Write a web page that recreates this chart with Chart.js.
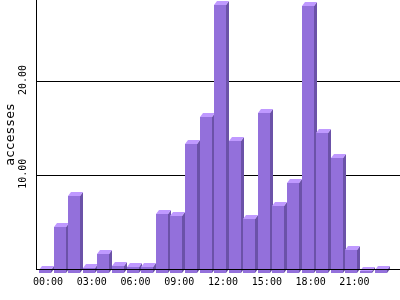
<!DOCTYPE html>
<html>
<head>
<meta charset="utf-8">
<script src="https://cdn.jsdelivr.net/npm/chart.js@4.4.1/dist/chart.umd.min.js"></script>
<style>
  html, body { margin: 0; padding: 0; background: #fff; }
</style>
</head>
<body>
<canvas id="chart" width="400" height="300"></canvas>
<script>
// hourly accesses
const hours = ['00:00', '01:00', '02:00', '03:00', '04:00', '05:00', '06:00', '07:00',
               '08:00', '09:00', '10:00', '11:00', '12:00', '13:00', '14:00', '15:00',
               '16:00', '17:00', '18:00', '19:00', '20:00', '21:00', '22:00', '23:00'];
const accesses = [0.35, 4.9, 8.2, 0.53, 2.0, 0.75, 0.64, 0.64,
                  6.3, 6.1, 13.8, 16.6, 28.6, 14.1, 5.8, 17.1,
                  7.15, 9.6, 28.45, 14.9, 12.3, 2.45, 0.2, 0.3];
const yTicks = [10, 20];
const labelEvery = 3;

// bar colours
const frontColor = '#9370DB';
const sideColor = '#6B52A8';
const topColor = '#BF99FF';

const monoFont = "'DejaVu Sans Mono', monospace";

// draws each bar as a little box: front face, right side and top
const bar3d = {
    id: 'bar3d',
    afterDatasetsDraw(chart) {
        const ctx = chart.ctx;
        const meta = chart.getDatasetMeta(0);
        const dx = 3, dy = 4;
        ctx.save();
        meta.data.forEach(bar => {
            const l = Math.round(bar.x - bar.width / 2);
            const r = Math.round(bar.x + bar.width / 2);
            const t = Math.round(bar.y) + dy;
            const b = Math.round(bar.base) + dy;

            ctx.fillStyle = frontColor;
            ctx.fillRect(l, t, r - l, b - t);

            ctx.fillStyle = sideColor;
            ctx.beginPath();
            ctx.moveTo(r, t);
            ctx.lineTo(r + dx, t - dy);
            ctx.lineTo(r + dx, b - dy);
            ctx.lineTo(r, b);
            ctx.closePath();
            ctx.fill();

            ctx.fillStyle = topColor;
            ctx.beginPath();
            ctx.moveTo(l, t);
            ctx.lineTo(r, t);
            ctx.lineTo(r + dx, t - dy);
            ctx.lineTo(l + dx, t - dy);
            ctx.closePath();
            ctx.fill();
        });
        ctx.restore();
    }
};

const ctx = document.getElementById('chart').getContext('2d');
new Chart(ctx, {
    type: 'bar',
    data: {
        datasets: [{
            label: 'accesses',
            data: accesses.map((v, i) => ({ x: i, y: v })),
            backgroundColor: 'rgba(0,0,0,0)',
            borderWidth: 0,
            barThickness: 12
        }]
    },
    options: {
        responsive: false,
        animation: false,
        layout: { padding: 0 },
        plugins: {
            legend: { display: false },
            tooltip: { enabled: false }
        },
        scales: {
            x: {
                type: 'linear',
                offset: false,
                min: -0.617,
                max: 24.33,
                grid: { display: false, drawTicks: false },
                border: { display: true, color: '#000', width: 1, z: 1 },
                afterBuildTicks: axis => {
                    axis.ticks = hours
                        .map((h, i) => i)
                        .filter(i => i % labelEvery === 0)
                        .map(i => ({ value: i }));
                },
                afterFit: axis => {
                    axis.height = 31;
                    axis.paddingLeft = 0;
                    axis.paddingRight = 0;
                },
                ticks: {
                    autoSkip: false,
                    maxRotation: 0,
                    padding: 7,
                    labelOffset: 3,
                    color: '#000',
                    font: { family: monoFont, size: 10 },
                    callback: v => hours[v]
                }
            },
            y: {
                min: 0,
                max: 28.7,
                grid: { color: '#000', lineWidth: 1, drawTicks: false },
                border: { display: true, color: '#000', width: 1 },
                afterBuildTicks: axis => {
                    axis.ticks = yTicks.map(v => ({ value: v }));
                },
                afterFit: axis => {
                    axis.width = 36;
                    axis.paddingTop = 0;
                    axis.paddingBottom = 0;
                },
                title: {
                    display: true,
                    text: 'accesses',
                    color: '#000',
                    font: { family: monoFont, size: 13 },
                    padding: { top: 2.5, bottom: 0 }
                },
                ticks: {
                    minRotation: 90,
                    maxRotation: 90,
                    crossAlign: 'center',
                    padding: -2.75,
                    labelOffset: -1.5,
                    color: '#000',
                    font: { family: monoFont, size: 10 },
                    callback: v => v.toFixed(2)
                }
            }
        }
    },
    plugins: [bar3d]
});
</script>
</body>
</html>
